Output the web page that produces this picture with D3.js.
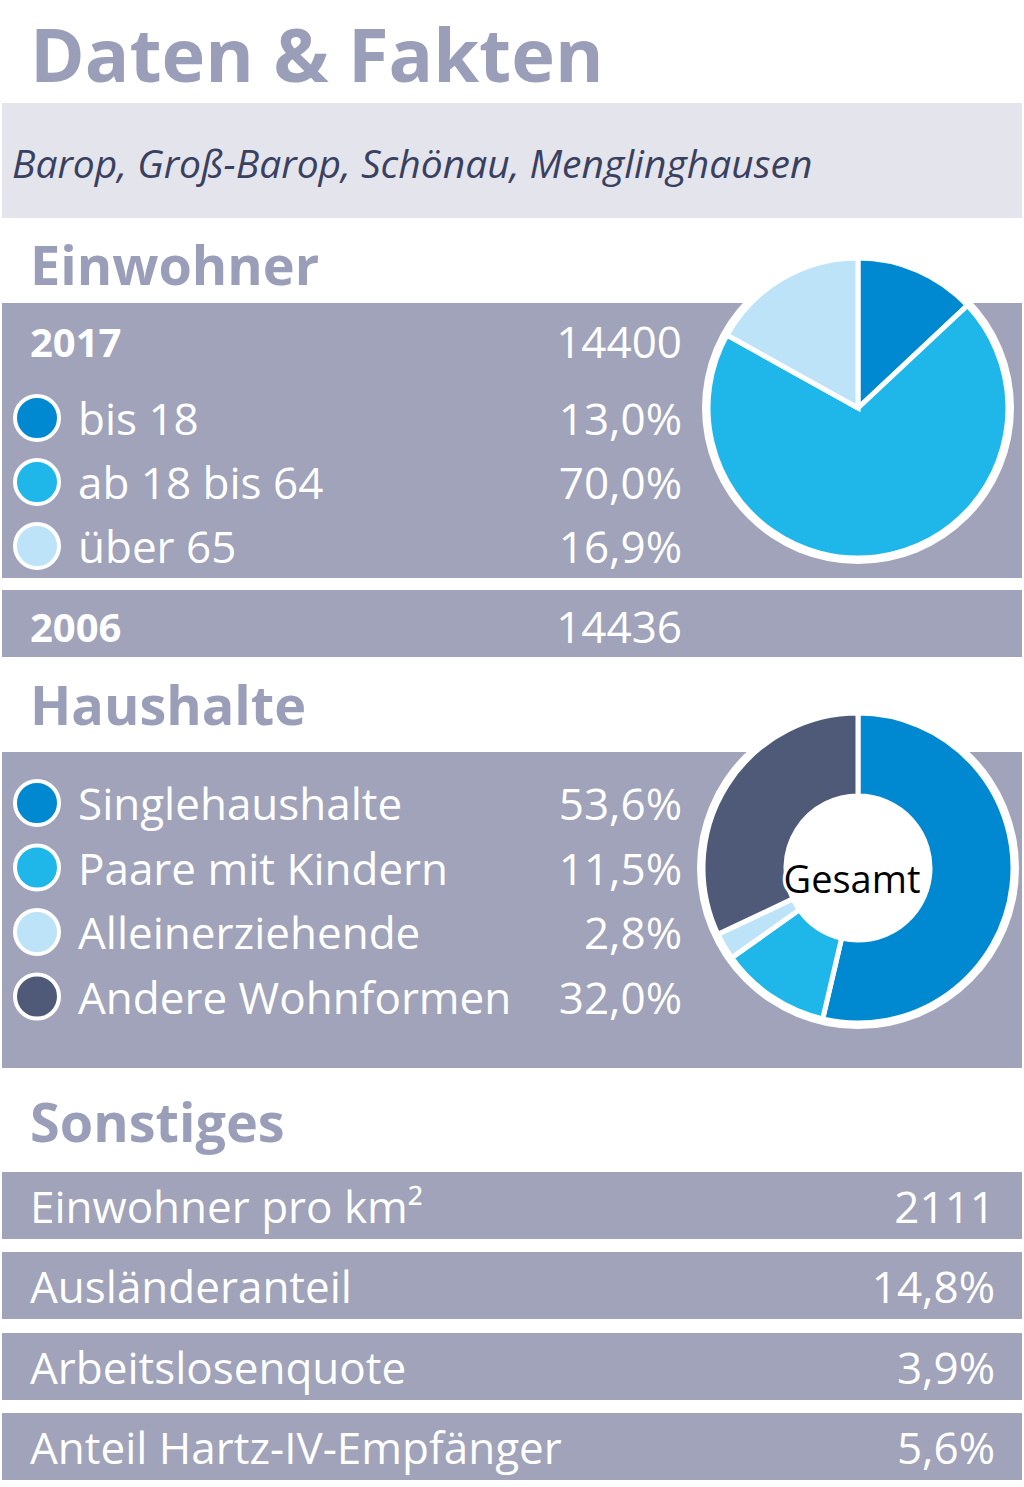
<!DOCTYPE html>
<html><head><meta charset="utf-8">
<script src="https://cdn.jsdelivr.net/npm/d3@7"></script>
<style>body{margin:0;background:#fff}svg{display:block}</style>
</head><body>
<svg id="c" width="1024" height="1487"></svg>
<script>
// data
const ewLabels = ["bis 18", "ab 18 bis 64", "über 65"]
const ewValues = [13.0, 70.0, 16.9]
const ewTotal2017 = "14400"
const ewTotal2006 = "14436"
const hhLabels = ["Singlehaushalte", "Paare mit Kindern", "Alleinerziehende", "Andere Wohnformen"]
const hhValues = [53.6, 11.5, 2.8, 32.0]
const otherLabels = ["Einwohner pro km²", "Ausländeranteil", "Arbeitslosenquote", "Anteil Hartz-IV-Empfänger"]
const otherValues = ["2111", "14,8%", "3,9%", "5,6%"]

const fmt = v => v.toFixed(1).replace(".", ",") + "%"
const ewColors = ["#0088d1", "#1fb6ea", "#bde3f8"]
const hhColors = ["#0088d1", "#1fb6ea", "#bde3f8", "#4e5a78"]
const panel = "#a0a3b9", head = "#9a9eb8"
const font = "'Open Sans', sans-serif"

const svg = d3.select("#c")

// title + location
svg.append("text").attr("x", 30).attr("y", 82).attr("font-family", font).attr("font-weight", 700)
    .attr("font-size", 74).attr("fill", head).text("Daten & Fakten")
svg.append("rect").attr("x", 2).attr("y", 103).attr("width", 1020).attr("height", 115).attr("fill", "#e4e5ec")
svg.append("text").attr("x", 12).attr("y", 178).attr("font-family", font).attr("font-style", "italic")
    .attr("font-size", 39).attr("fill", "#3a4060").text("Barop, Groß-Barop, Schönau, Menglinghausen")

function heading(t, y) {
    svg.append("text").attr("x", 30).attr("y", y).attr("font-family", font).attr("font-weight", 700)
        .attr("font-size", 54).attr("fill", head).text(t)
}
function txt(t, x, y, opts = {}) {
    return svg.append("text").attr("x", x).attr("y", y).attr("font-family", font)
        .attr("font-size", opts.size || 44).attr("font-weight", opts.bold ? 700 : 400)
        .attr("text-anchor", opts.anchor || "start").attr("dominant-baseline", "central")
        .attr("fill", opts.fill || "#fff").text(t)
}
function legend(labels, values, colors, y0, step) {
    labels.forEach((l, i) => {
        const y = y0 + i * step
        svg.append("circle").attr("cx", 37).attr("cy", y).attr("r", 22).attr("fill", colors[i])
            .attr("stroke", "#fff").attr("stroke-width", 4)
        txt(l, 78, y)
        txt(fmt(values[i]), 682, y, {anchor: "end"})
    })
}

// Einwohner
heading("Einwohner", 285)
svg.append("rect").attr("x", 2).attr("y", 303).attr("width", 1020).attr("height", 275).attr("fill", panel)
txt("2017", 30, 341, {bold: true, size: 40})
txt(ewTotal2017, 682, 341, {anchor: "end"})
legend(ewLabels, ewValues, ewColors, 418, 64)
svg.append("rect").attr("x", 2).attr("y", 590).attr("width", 1020).attr("height", 67).attr("fill", panel)
txt("2006", 30, 626, {bold: true, size: 40})
txt(ewTotal2006, 682, 626, {anchor: "end"})

const pie = d3.pie().sort(null)
const g1 = svg.append("g").attr("transform", "translate(858,408)")
g1.append("circle").attr("r", 156).attr("fill", "#fff")
g1.selectAll("path").data(pie(ewValues)).join("path")
    .attr("d", d3.arc().innerRadius(0).outerRadius(150))
    .attr("fill", (d, i) => ewColors[i]).attr("stroke", "#fff").attr("stroke-width", 5)

// Haushalte
heading("Haushalte", 725)
svg.append("rect").attr("x", 2).attr("y", 752).attr("width", 1020).attr("height", 316).attr("fill", panel)
legend(hhLabels, hhValues, hhColors, 803, 64.5)

const g2 = svg.append("g").attr("transform", "translate(858,868)")
g2.append("circle").attr("r", 161).attr("fill", "#fff")
g2.selectAll("path").data(pie(hhValues)).join("path")
    .attr("d", d3.arc().innerRadius(72).outerRadius(155))
    .attr("fill", (d, i) => hhColors[i]).attr("stroke", "#fff").attr("stroke-width", 5)
g2.append("text").attr("x", -6).attr("y", 10).attr("text-anchor", "middle").attr("dominant-baseline", "central")
    .attr("font-family", font).attr("font-size", 38).attr("fill", "#000")
    .attr("stroke", "#fff").attr("stroke-width", 6).attr("paint-order", "stroke").text("Gesamt")

// Sonstiges
heading("Sonstiges", 1142)
const barY = [1172, 1252, 1333, 1413]
otherLabels.forEach((l, i) => {
    svg.append("rect").attr("x", 2).attr("y", barY[i]).attr("width", 1020).attr("height", 67).attr("fill", panel)
    txt(l, 30, barY[i] + 34)
    txt(otherValues[i], 995, barY[i] + 34, {anchor: "end"})
})
</script>
</body></html>
